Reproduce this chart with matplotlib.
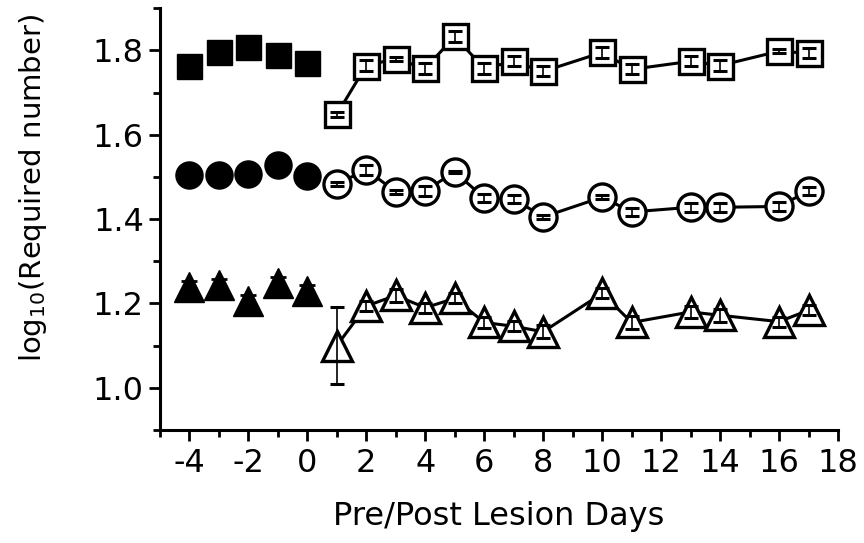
import numpy as np
import matplotlib
matplotlib.use("Agg")
import matplotlib.pyplot as plt
from matplotlib.ticker import MultipleLocator

plt.rcParams['font.family'] = ['DejaVu Sans']
plt.rcParams['axes.unicode_minus'] = False

# days
pre_days = [-4, -3, -2, -1, 0]
post_days = [1, 2, 3, 4, 5, 6, 7, 8, 10, 11, 13, 14, 16, 17]

# squares
sq_pre = [1.762, 1.795, 1.807, 1.788, 1.771]
sq_post = [1.648, 1.764, 1.780, 1.757, 1.833, 1.757, 1.774, 1.750,
           1.795, 1.755, 1.774, 1.764, 1.798, 1.793]
sq_err = [0.005, 0.012, 0.005, 0.012, 0.014, 0.012, 0.012, 0.012,
          0.012, 0.012, 0.012, 0.012, 0.005, 0.012]

# circles
ci_pre = [1.505, 1.505, 1.507, 1.529, 1.502]
ci_post = [1.483, 1.517, 1.465, 1.467, 1.512, 1.450, 1.448, 1.405,
           1.452, 1.417, 1.428, 1.428, 1.430, 1.467]
ci_err = [0.005, 0.012, 0.005, 0.012, 0.003, 0.010, 0.010, 0.005,
          0.005, 0.010, 0.010, 0.010, 0.010, 0.010]

# triangles
tr_pre = [1.238, 1.243, 1.205, 1.248, 1.229]
tr_pre_err = [0.015, 0.015, 0.015, 0.015, 0.015]
tr_post = [1.100, 1.194, 1.219, 1.190, 1.212, 1.155, 1.146, 1.133,
           1.224, 1.155, 1.180, 1.172, 1.157, 1.184]
tr_err = [0.092, 0.012, 0.015, 0.012, 0.012, 0.012, 0.012, 0.015,
          0.012, 0.015, 0.015, 0.015, 0.012, 0.012]

fig = plt.figure(figsize=(8.64, 5.43), dpi=100)
ax = fig.add_axes([0.185, 0.208, 0.785, 0.777])

series = [
    ('s', 18, sq_pre, None, sq_post, sq_err),
    ('o', 19.5, ci_pre, None, ci_post, ci_err),
    ('^', 21, tr_pre, tr_pre_err, tr_post, tr_err),
]

for mk, ms, pre, pre_err, post, post_err in series:
    # pre-lesion: filled, no line
    if pre_err is not None:
        ax.errorbar(pre_days, pre, yerr=pre_err, fmt='none', ecolor='black',
                    elinewidth=1.5, capsize=6, capthick=2, zorder=2)
    ax.plot(pre_days, pre, linestyle='none', marker=mk, markersize=ms,
            markerfacecolor='black', markeredgecolor='black', zorder=3)
    # post-lesion: open, connected
    ax.plot(post_days, post, color='black', lw=2.2, zorder=1)
    ax.plot(post_days, post, linestyle='none', marker=mk, markersize=ms,
            markerfacecolor='white', markeredgecolor='black',
            markeredgewidth=2.4, zorder=3)
    ax.errorbar(post_days, post, yerr=post_err, fmt='none', ecolor='black',
                elinewidth=1.2, capsize=5, capthick=2.2, zorder=4)

ax.set_xlim(-5, 18)
ax.set_ylim(0.9, 1.9)
ax.xaxis.set_minor_locator(MultipleLocator(1))
ax.yaxis.set_minor_locator(MultipleLocator(0.1))
ax.set_xticks(np.arange(-4, 19, 2))
ax.set_yticks([1.0, 1.2, 1.4, 1.6, 1.8])
ax.set_yticklabels(['1.0', '1.2', '1.4', '1.6', '1.8'])

for s in ['top', 'right']:
    ax.spines[s].set_visible(False)
for s in ['left', 'bottom']:
    ax.spines[s].set_linewidth(2.2)

ax.tick_params(which='major', length=8, width=2, labelsize=23, direction='out')
ax.tick_params(which='minor', length=5, width=2, direction='out')
ax.tick_params(axis='x', pad=5)

ax.set_xlabel('Pre/Post Lesion Days', fontsize=23)
ax.set_ylabel('log$_{10}$(Required number)', fontsize=21)
ax.xaxis.set_label_coords(0.5, -0.168)
ax.yaxis.set_label_coords(-0.163, 0.573)

fig.savefig('out.png', dpi=100)
